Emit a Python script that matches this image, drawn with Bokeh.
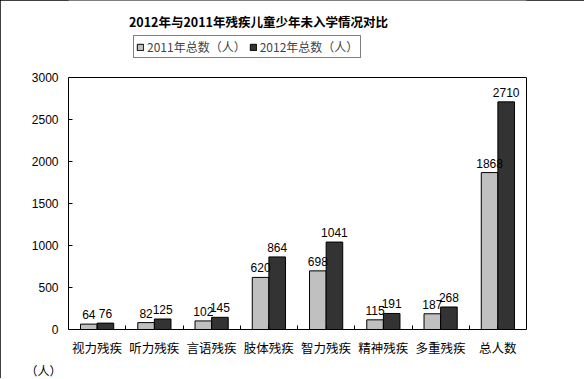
from bokeh.plotting import figure
from bokeh.models import (ColumnDataSource, Range1d, LinearAxis, Title, Span,
                          FixedTicker, Legend, LegendItem, LabelSet, Label)
from bokeh.core.properties import value
from bokeh.transform import dodge
from bokeh.embed import file_html
from bokeh.resources import INLINE

categories = ["视力残疾", "听力残疾", "言语残疾", "肢体残疾", "智力残疾", "精神残疾", "多重残疾", "总人数"]
v2011 = [64, 82, 102, 620, 698, 115, 187, 1868]
v2012 = [76, 125, 145, 864, 1041, 191, 268, 2710]
y_ticks = [0, 500, 1000, 1500, 2000, 2500, 3000]
series_names = ["2011年总数（人）", "2012年总数（人）"]
title_text = "2012年与2011年残疾儿童少年未入学情况对比"
unit_text = "（人）"

n = len(categories)
centers = [i + 0.5 for i in range(n)]
edges = list(range(1, n))
src = ColumnDataSource(dict(x=centers, a=v2011, b=v2012,
                            at=[str(v) for v in v2011], bt=[str(v) for v in v2012]))

# layout geometry (pixels)
fig_w, fig_h = 584, 378
bottom_px = 49                     # space taken by the axis labels and the unit note
frame_bottom_px = fig_h - bottom_px
plot_top_px = 77                   # top edge of the value box
y_max = y_ticks[-1]
y_top = y_max * frame_bottom_px / (frame_bottom_px - plot_top_px)

p = figure(x_range=Range1d(0, n), y_range=Range1d(0, y_top),
           width=fig_w, height=fig_h, output_backend="svg", toolbar_location=None,
           x_axis_location=None, min_border_left=68, min_border_right=58,
           min_border_top=0, min_border_bottom=bottom_px)
p.styles = {"outline": "1px solid black", "outline-offset": "-1px"}
p.background_fill_color = "white"
p.border_fill_color = "white"
p.outline_line_color = None
p.xgrid.visible = False
p.ygrid.visible = False

# y axis
ya = p.yaxis[0]
ya.ticker = FixedTicker(ticks=y_ticks)
ya.bounds = (0, y_max)
ya.major_tick_in = 4
ya.major_tick_out = 0
ya.minor_tick_line_color = None
ya.axis_line_color = "black"
ya.major_label_standoff = 10
ya.major_label_text_font = "Liberation Sans"
ya.major_label_text_font_size = "12px"
ya.major_label_text_color = "black"

# right edge of the plot box
ra = LinearAxis(ticker=FixedTicker(ticks=[]), bounds=(0, y_max), axis_line_color="black",
                major_tick_line_color=None, minor_tick_line_color=None,
                major_label_text_font_size="1px", major_label_standoff=0)
p.add_layout(ra, "right")
# top edge of the plot box
p.add_layout(Span(location=y_max, dimension="width", line_color="black", line_width=1))

# category axis: ticks at group boundaries (inward), labels at group centres
labels = {c: lab for c, lab in zip(centers, categories)}
labels.update({e: "" for e in edges})
cat_axis = LinearAxis(ticker=FixedTicker(ticks=sorted(edges + centers)),
                      major_label_overrides=labels,
                      major_tick_in=4, major_tick_out=0, minor_tick_out=0, minor_tick_in=0,
                      minor_tick_line_color=None, axis_line_color="black",
                      major_label_text_font="Noto Sans CJK SC",
                      major_label_text_font_size="12.5px",
                      major_label_text_color="black", major_label_standoff=8)
p.add_layout(cat_axis, "below")

w = 0.29
r1 = p.vbar(x=dodge("x", -w / 2), top="a", width=w, source=src,
            fill_color="#C0C0C0", line_color="black", line_width=1)
r2 = p.vbar(x=dodge("x", w / 2), top="b", width=w, source=src,
            fill_color="#333333", line_color="black", line_width=1)

for col, txt, off in (("a", "at", -w / 2), ("b", "bt", w / 2)):
    p.add_layout(LabelSet(x=dodge("x", off), y=col, text=txt, source=src,
                          y_offset=5, text_align="center", text_baseline="bottom",
                          text_font=value("Liberation Sans"), text_font_size=value("12px"),
                          text_color="black"))

# legend: its (x, y) location gives the lower-left corner, measured from the frame's lower-left
legend = Legend(items=[LegendItem(label=series_names[0], renderers=[r1]),
                       LegendItem(label=series_names[1], renderers=[r2])],
                orientation="horizontal", location=(65, frame_bottom_px - 58),
                border_line_color="black", border_line_width=1, background_fill_alpha=1,
                label_text_font="Noto Sans CJK SC", label_text_font_size="12px",
                glyph_width=8, glyph_height=8, label_height=12, label_standoff=3,
                padding=2, spacing=3, margin=0)
p.add_layout(legend, "center")

p.add_layout(Label(x=190, y=frame_bottom_px - 21, x_units="screen", y_units="screen",
                   text=title_text, text_align="center", text_baseline="middle",
                   text_font="Noto Sans CJK SC", text_font_style="bold",
                   text_font_size="12.5px", text_color="black"))

p.add_layout(Title(text=unit_text, align="left", offset=-43, standoff=0,
                   text_font="Noto Sans CJK SC", text_font_size="12px",
                   text_font_style="normal", text_color="black"), "below")

open("out.html", "w").write(file_html(p, INLINE))
